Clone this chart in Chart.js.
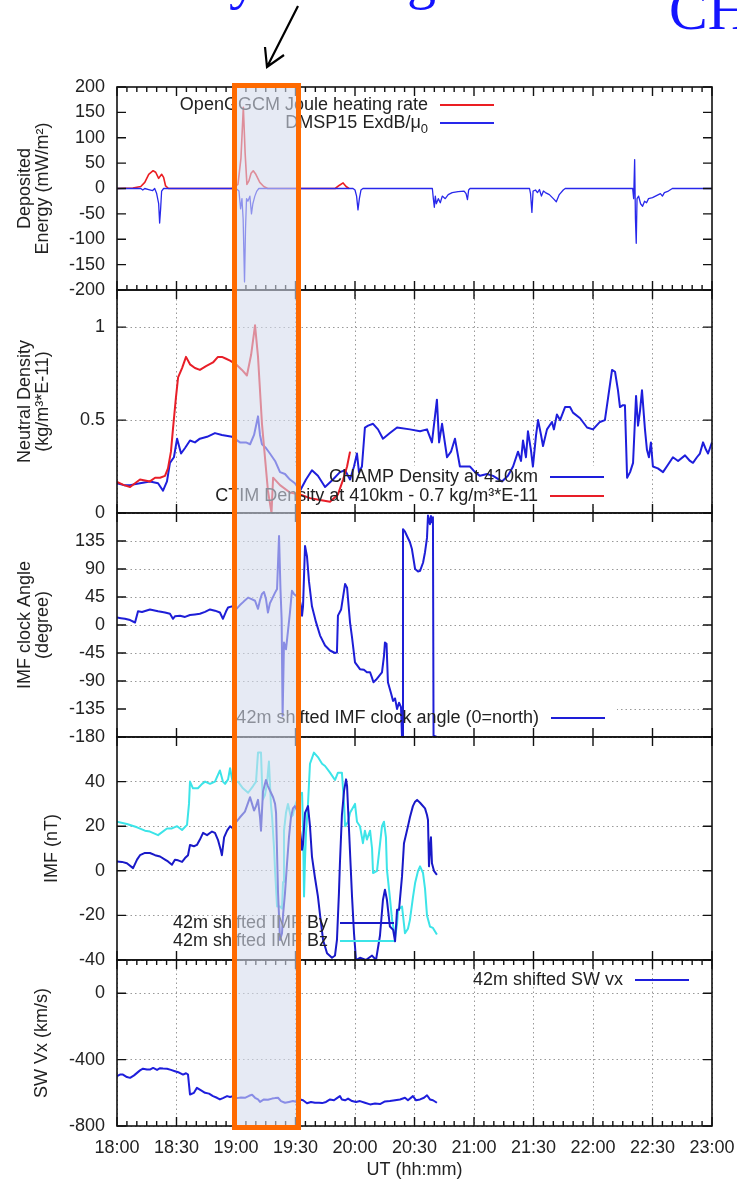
<!DOCTYPE html>
<html>
<head>
<meta charset="utf-8">
<script src="https://cdn.jsdelivr.net/npm/chart.js@4.4.1/dist/chart.umd.min.js"></script>
<style>
html, body { margin: 0; padding: 0; background: #fff; }
#wrap { position: relative; width: 737px; height: 1183px; overflow: hidden; background: #fff; }
#wrap canvas { position: absolute; left: 0; }
#focus { position: absolute; left: 232px; top: 83px; width: 69px; height: 1047px; box-sizing: border-box;
  border: 5px solid #ff6a00; background: rgba(212, 220, 236, 0.59); }
#note { position: absolute; left: 0; top: 0; }
</style>
</head>
<body>
<div id="wrap">
  <canvas id="p1" width="737" height="231" style="top:73px"></canvas>
  <canvas id="p2" width="737" height="251" style="top:276px"></canvas>
  <canvas id="p3" width="737" height="252" style="top:499px"></canvas>
  <canvas id="p4" width="737" height="251" style="top:723px"></canvas>
  <canvas id="p5" width="737" height="237" style="top:946px"></canvas>
  <div id="focus"></div>
  <svg id="note" width="737" height="80">
    <g font-family="'Liberation Serif', 'Times New Roman', serif" font-size="58" fill="#1414ff">
      <text x="229" y="-2">y</text>
      <text x="407" y="-2">g</text>
      <text x="669" y="29">CH</text>
    </g>
    <path d="M298 6 L267 67 M265 47 L267 67 L284 55" stroke="#000" stroke-width="2.2" fill="none"/>
  </svg>
</div>
<script>
// time axis: minutes after 18:00
const xTicks = [0, 30, 60, 90, 120, 150, 180, 210, 240, 270, 300];
const xLabels = ['18:00', '18:30', '19:00', '19:30', '20:00', '20:30', '21:00', '21:30', '22:00', '22:30', '23:00'];

// panel 1: deposited energy
const jouleT = [0, 8, 12, 14, 16, 18.2, 19.5, 21, 22.5, 23.5, 24.5, 26, 58, 61, 62.5, 63.7, 64.6, 65.5, 66.5, 67.6, 68.7, 70, 72, 74, 76, 110, 112, 114, 115.5, 117];
const jouleV = [0, 1, 4, 12, 28, 35, 32, 20, 28, 22, 5, 0, 0, 8, 60, 160, 70, 8, 15, 30, 35, 28, 12, 4, 0, 0, 6, 11, 4, 0];
const dmspT = [0, 12, 13, 14, 16, 18, 19, 20, 21, 21.5, 22, 22.5, 23.5,
  60, 61.5, 62.3, 63, 63.6, 64.3, 64.8, 65.3, 66, 67, 67.8, 68.5, 69.5, 70.5, 71.5,
  119, 120, 120.8, 121.5, 122.2, 123, 124,
  159, 159.5, 160, 160.5, 161, 162, 163, 164, 165.5, 167, 169, 172, 175, 176, 176.7, 177.3, 178,
  208, 208.5, 209.2, 209.8, 211, 212, 213, 214, 215, 216, 218, 220, 221.5, 223, 225, 226,
  260, 260.5, 261, 261.4, 261.8, 262.2, 263, 264, 265, 266, 267, 268, 270, 272, 274, 275, 276, 278, 280, 300];
const dmspV = [0, 0, -3, 0, -2, -4, 0, -10, -30, -68, -40, -5, 0,
  0, -5, -40, -20, -60, -184, -80, -20, -25, -15, -50, -30, -15, -5, 0,
  0, -3, -15, -42, -20, -3, 0,
  0, -20, -37, -15, -30, -20, -28, -15, -20, -12, -8, -6, -5, -10, -22, -3, 0,
  0, -10, -47, -5, -3, -8, -2, -15, -5, -8, -12, -20, -26, -12, -3, 0,
  0, -20, 57, -60, -108, -20, -15, -30, -35, -25, -28, -20, -18, -14, -10, -15, -8, -5, 0, 0];
const p1Ticks = [-200, -150, -100, -50, 0, 50, 100, 150, 200];
const p1Labels = ['-200', '-150', '-100', '-50', '0', '50', '100', '150', '200'];

// panel 2: neutral density
const ctimT = [0, 3.5, 6.6, 11.6, 16.6, 19.2, 21.7, 24.2, 25.7, 27.2, 28.2, 29.7, 30.8, 32.8, 34.8,
  36.8, 39.3, 41.8, 44.9, 48.4, 50.9, 52.9, 55, 57, 60, 63, 65.5, 67.6, 69.6, 71.1,
  73.1, 76.1, 77.9, 78.7, 82.2, 87.2, 92.3, 97.3, 102.4, 107.4, 111.4, 114, 116, 117.5];
const ctimV = [0.168, 0.15, 0.14, 0.18, 0.17, 0.19, 0.19, 0.2, 0.24, 0.33, 0.45, 0.62, 0.73, 0.78, 0.84,
  0.8, 0.78, 0.77, 0.79, 0.81, 0.84, 0.84, 0.83, 0.82, 0.8, 0.77, 0.74, 0.85, 1.01, 0.84,
  0.48, 0.12, 0.0, 0.19, 0.15, 0.11, 0.1, 0.08, 0.07, 0.06, 0.1, 0.18, 0.25, 0.33];
const champT = [0, 3.5, 6.6, 11.6, 16.6, 20.7, 23.2, 25.2, 26.7, 28.7, 30.3, 32.3, 34.3, 36.8, 39.3,
  41.8, 45.4, 49.4, 52.9, 58, 62, 65, 67.1, 69.1, 71.1, 72.1, 73.1, 75.1, 77.1, 79.7,
  82.2, 84.7, 87.2, 89.7, 92.3, 95.3, 98.3, 101.3, 104.9, 108.9, 112.4, 115, 117.5, 119.5, 121,
  122, 123.5, 125, 126.6, 129.1, 131.6, 134.1, 137.6, 141.2, 147.7, 152.8, 156.3, 158.8, 161.3, 162.4,
  163.9, 166.4, 168.4, 170.4, 172.9, 178, 180.5, 183, 186.6, 189.6, 194.1, 197.1, 199.7, 202.2, 203.7,
  204.7, 206.2, 207.2, 208.7, 209.7, 211.3, 212.3, 213.8, 214.8, 216.8, 219.3, 220.3, 221.8, 223.4, 225.9,
  228.4, 229.9, 233.5, 237, 240, 243.5, 246, 247.6, 249.6, 251.1, 252.6, 253.6, 255.1, 256.1, 257.2,
  258.7, 260.2, 261.7, 262.7, 263.7, 264.7, 266.2, 267.2, 268.2, 269.2, 270.2, 272.7, 275.3, 277.8, 280.3,
  282.9, 286.4, 288.9, 290.4, 292.4, 293.9, 295.5, 297, 298, 300];
const champV = [0.16, 0.15, 0.15, 0.16, 0.17, 0.16, 0.12, 0.17, 0.27, 0.3, 0.40, 0.32, 0.35, 0.39, 0.38,
  0.40, 0.41, 0.43, 0.42, 0.41, 0.38, 0.38, 0.37, 0.42, 0.52, 0.42, 0.37, 0.35, 0.32, 0.28,
  0.22, 0.21, 0.18, 0.16, 0.12, 0.18, 0.23, 0.2, 0.14, 0.18, 0.22, 0.23, 0.18, 0.25, 0.32,
  0.22, 0.25, 0.46, 0.47, 0.48, 0.45, 0.40, 0.43, 0.46, 0.45, 0.44, 0.45, 0.38, 0.61, 0.38,
  0.48, 0.30, 0.33, 0.40, 0.25, 0.25, 0.22, 0.20, 0.21, 0.20, 0.17, 0.2, 0.25, 0.33, 0.28,
  0.39, 0.3, 0.44, 0.34, 0.25, 0.42, 0.50, 0.42, 0.36, 0.45, 0.49, 0.45, 0.53, 0.5, 0.57,
  0.57, 0.54, 0.51, 0.46, 0.45, 0.49, 0.5, 0.62, 0.77, 0.76, 0.66, 0.57, 0.58, 0.58, 0.19,
  0.22, 0.27, 0.63, 0.47, 0.55, 0.66, 0.45, 0.34, 0.30, 0.38, 0.25, 0.24, 0.22, 0.26, 0.30,
  0.28, 0.31, 0.28, 0.27, 0.3, 0.32, 0.38, 0.34, 0.32, 0.38];
const p2Ticks = [0, 0.5, 1];
const p2Labels = ['0', '0.5', '1'];

// panel 3: IMF clock angle
const clockT = [0, 2, 4, 6.6, 9.1, 10.6, 12.6, 16.6, 20.7, 24.2, 26.7, 28.2, 29.2, 31.8, 34.3,
  36.8, 39.3, 41.8, 44.4, 46.9, 49.4, 51.9, 53.4, 55, 56, 58, 60, 62, 64, 66.1,
  67.6, 69.6, 71.1, 72.1, 73.1, 74.1, 75.1, 76.1, 77.1, 78.2, 79.7, 80.7, 81.7, 82.4, 83,
  83.5, 84.2, 85.2, 86.2, 87.2, 88.2, 89.2, 90.3, 91.8, 92.8, 93.3, 93.8, 94.8, 95.8, 96.8,
  98.3, 100.3, 102.4, 104.9, 107.4, 109.9, 110.9, 111.4, 113, 115, 116, 117.5, 118.5, 120, 122.5,
  124.5, 126, 127.6, 128.6, 129.3, 130.6, 132.6, 133.6, 134.6, 135.1, 135.9, 136.6, 138.2, 139.2, 140.2,
  141.2, 142.2, 143.2, 143.7, 144.2, 145.2, 146.2, 147.7, 148.7, 150.3, 151.8, 152.8, 154.3, 155.3, 156.3,
  156.8, 157.8, 158.3, 158.8, 159.3, 159.6, 161.3];
const clockV = [12, 11, 10, 8, 4, 22, 21, 25, 22, 20, 18, 10, 14, 15, 13,
  16, 17, 18, 21, 25, 23, 20, 10, 22, 28, 30, 25, 32, 38, 44,
  42, 39, 26, 40, 50, 53, 42, 20, 35, 42, 52, 58, 143, 60, 10,
  -146, -28, -39, -10, 20, 55, 50, 47, 45, 30, 15, 30, 127, 110, 70,
  30, 5, -17, -33, -41, -45, -44, 15, 25, 66, 60, 4, -20, -60, -71,
  -72, -76, -76, -85, -92, -88, -80, -76, -50, -28, -30, -92, -110, -122, -118,
  -135, -125, -132, -180, 154, 150, 143, 133, 122, 90, 86, 87, 100, 117, 140,
  176, 162, 175, 165, 173, -178, -180];
const p3Ticks = [-180, -135, -90, -45, 0, 45, 90, 135, 180];
const p3Labels = ['-180', '-135', '-90', '-45', '0', '45', '90', '135', ''];

// panel 4: IMF By, Bz
const byT = [0, 2.5, 5, 8.1, 10.1, 11.6, 14.1, 16.6, 19.2, 21.7, 24.2, 25.7, 27.7, 29.2, 30.8,
  32.8, 34.3, 35.8, 36.8, 38.8, 40.3, 41.8, 43.4, 45.4, 47.9, 49.4, 50.9, 52.4, 52.9, 54,
  55.5, 57, 58.5, 59.5, 62, 64.5, 67.1, 68.1, 69.1, 70.1, 71.1, 72.1, 72.6, 73.6, 75.1,
  76.1, 77.1, 78.7, 79.7, 80.2, 81.2, 82.2, 83.2, 83.7, 84.7, 85.7, 86.7, 87.7, 88.7, 89.7,
  91.3, 92.3, 93.3, 93.8, 94.8, 96.3, 97.3, 98.3, 99.8, 101.3, 102.4, 103.9, 105.9, 108.4, 109.9,
  110.9, 111.9, 112.4, 113.4, 114.5, 115.5, 116, 116.5, 117, 118.5, 119.5, 120.5, 122.5, 125.5, 128.6,
  130.6, 132.6, 134.1, 135.1, 136.1, 137.6, 139.2, 140.2, 141.2, 142.2, 143.7, 144.7, 146.7, 147.7, 149.2,
  150.3, 151.3, 152.8, 153.8, 155.3, 156.3, 156.8, 157.3, 157.8, 158.3, 158.8, 159.8, 161.3];
const byV = [4.2, 4, 3.4, 1.2, 5, 7, 8, 8, 7, 6.4, 5, 4.2, 2.7, 5, 4.7,
  4, 5.7, 7, 11.6, 11, 11.6, 14, 17, 16, 17.6, 17, 13.9, 9, 7, 15,
  18, 20, 19, 21.3, 24, 26.5, 33, 30, 27, 29, 31.8, 24, 18, 35.5, 40.7,
  38, 36, 33, 30, 26, -10, -31, -28, -20, -10, 3, 15, 24, 28, 29,
  26, 18, 9.4, 12, 26, 29, 20, 6.4, -3, -11.5, -20, -31, -37, -39, -38,
  -31, -10, 3.4, 25, 36, 41, 38, 28, 18, -11.5, -28, -40, -39, -40, -38,
  -40, -29, -13, -8.5, -13, -25, -26.4, -31.6, -17.5, -17.5, -2.5, 12.4, 20, 24, 29,
  31, 31.8, 30.5, 29.5, 28, 25, 22.8, 2, 10, 15, 3.4, 0, -1.8];
const bzT = [0, 5, 10.1, 14.1, 16.6, 20.7, 25.2, 27.7, 30.3, 32.8, 35.3, 36.3, 36.8, 38.3, 40.8,
  42.9, 44.4, 46.9, 49.4, 50.9, 51.9, 53.4, 54.5, 56, 57, 58.5, 61, 63.5, 66.1, 68.6,
  70.1, 71.1, 72.6, 73.1, 73.6, 74.6, 75.6, 76.6, 77.6, 78.2, 79.2, 79.7, 80.7, 82.2, 83.2,
  83.7, 84.2, 85.2, 86.2, 87.7, 88.7, 89.7, 91.3, 93.3, 93.8, 94.3, 94.8, 95.3, 96.3, 97.3,
  99.3, 101.3, 103.4, 104.9, 107.4, 109.9, 111.4, 113.4, 114.5, 115, 116.5, 117.5, 120, 121, 122.5,
  124, 125, 126, 127.6, 128.6, 129.1, 131.1, 132.6, 133.6, 134.6, 135.6, 136.1, 137.6, 138.7, 140.2,
  141.2, 141.7, 143.7, 145.2, 146.7, 147.7, 149.2, 150.3, 151.8, 152.8, 154.3, 155.3, 156.3, 157.8, 159.3,
  161.3];
const bzV = [22, 21, 19.5, 18, 17.6, 16, 19, 19, 20, 18.3, 20.6, 30, 40, 37, 37,
  39, 40, 39, 40, 43, 45, 40, 39, 41, 46, 39, 40, 37, 35, 38,
  40, 53, 53, 40, 32, 34, 39, 49, 30, 24, 10, 0, -16, -16, -17,
  -5, 18, 26, 30, 24, 25, 29, 33, 35, 20, -11.5, 5, 17, 30, 48,
  53, 51, 48, 47, 44, 40.7, 44, 44, 30, 20, 22, 26, 30, 22, 20,
  12.4, 18, 14, 18, 10, -1, 0, 12, 20, 22, 15, 0.5, -12, -22, -30,
  -24, -17.5, -16, -28, -26, -22, -12, -5.5, 0, 2, -1, -8, -20, -25, -25.6,
  -28.6];
const p4Ticks = [-40, -20, 0, 20, 40, 60];
const p4Labels = ['-40', '-20', '0', '20', '40', ''];

// panel 5: solar wind vx
const swT = [0, 1.5, 3, 5, 6.6, 8.6, 10.1, 11.6, 13.1, 15.1, 16.6, 18.2, 20.2, 21.7, 23.2,
  25.2, 27.2, 29.2, 31.3, 33.3, 34.8, 35.8, 36.8, 38.8, 40.3, 42.4, 44.4, 46.4, 48.4, 50.4,
  51.9, 53.4, 55.5, 57, 58.5, 60.5, 62.5, 64.5, 66.6, 68.1, 69.6, 71.1, 72.1, 74.1, 76.1,
  78.2, 79.7, 81.2, 82.7, 84.7, 86.7, 88.7, 90.8, 92.3, 93.8, 95.8, 97.8, 99.8, 101.9, 103.4,
  105.4, 107.4, 109.4, 110.9, 112.4, 113.4, 115, 116.5, 118.5, 120.5, 122.5, 125, 127.6, 130.1, 132.6,
  135.1, 137.6, 140.2, 142.7, 145.2, 146.7, 149.2, 150.8, 152.8, 154.8, 156.3, 157.8, 159.3, 161.3];
const swV = [-500, -490, -490, -505, -510, -495, -480, -465, -455, -460, -460, -450, -462, -452, -454,
  -455, -462, -470, -478, -490, -482, -490, -610, -600, -570, -585, -600, -605, -620, -630,
  -640, -632, -620, -625, -620, -632, -628, -630, -618, -612, -630, -640, -655, -640, -642,
  -635, -632, -630, -650, -660, -655, -650, -655, -640, -645, -663, -655, -660, -660, -662,
  -655, -640, -645, -632, -620, -640, -645, -635, -650, -655, -650, -660, -670, -665, -668,
  -652, -650, -645, -640, -630, -645, -620, -645, -640, -630, -615, -640, -645, -660];
const p5Ticks = [-800, -400, 0, 200];
const p5Labels = ['-800', '-400', '0', ''];

Chart.defaults.font.family = '"Liberation Sans", Arial, Helvetica, sans-serif';
Chart.defaults.font.size = 18;
Chart.defaults.color = '#222';

const pts = (ts, vs) => ts.map((t, i) => ({ x: t, y: vs[i] }));
const series = (label, color, ts, vs, w) => ({
  label, data: pts(ts, vs), borderColor: color, borderWidth: w || 2,
  pointRadius: 0, tension: 0, fill: false, borderJoinStyle: 'round'
});

// gnuplot-like frame with inward tick marks
const gnuFrame = {
  id: 'gnuFrame',
  afterDraw(chart, args, opts) {
    const { ctx, chartArea: a, scales: { x, y } } = chart;
    ctx.save();
    ctx.strokeStyle = '#111';
    ctx.lineWidth = 1.4;
    ctx.beginPath();
    y.ticks.forEach(t => {
      const py = y.getPixelForValue(t.value);
      ctx.moveTo(a.left, py); ctx.lineTo(a.left + 9, py);
      ctx.moveTo(a.right, py); ctx.lineTo(a.right - 9, py);
    });
    x.ticks.forEach(t => {
      const px = x.getPixelForValue(t.value);
      ctx.moveTo(px, a.top); ctx.lineTo(px, a.top + 9);
      ctx.moveTo(px, a.bottom); ctx.lineTo(px, a.bottom - 9);
    });
    if (opts.minor) {
      for (let m = x.min; m <= x.max; m += 5) {
        if (m % 30 === 0) continue;
        const px = x.getPixelForValue(m);
        ctx.moveTo(px, a.top); ctx.lineTo(px, a.top + 5);
        ctx.moveTo(px, a.bottom); ctx.lineTo(px, a.bottom - 5);
      }
    }
    ctx.stroke();
    ctx.lineWidth = 1.6;
    ctx.strokeRect(a.left, a.top, a.right - a.left, a.bottom - a.top);
    ctx.restore();
  }
};

// key: right aligned text followed by a line sample
const gnuKey = {
  id: 'gnuKey',
  beforeDatasetsDraw(chart, args, opts) {
    if (!opts.box) return;
    const off = chart.canvas.offsetTop;
    const [x0, y0, x1, y1] = opts.box;
    chart.ctx.save();
    chart.ctx.fillStyle = '#fff';
    chart.ctx.fillRect(x0, y0 - off, x1 - x0, y1 - y0);
    chart.ctx.restore();
  },
  afterDatasetsDraw(chart, args, opts) {
    const { ctx } = chart;
    const off = chart.canvas.offsetTop;
    const fam = Chart.defaults.font.family;
    ctx.save();
    ctx.textBaseline = 'middle';
    ctx.textAlign = 'right';
    ctx.fillStyle = '#222';
    (opts.entries || []).forEach(e => {
      const ds = chart.data.datasets[e.ds];
      const y = e.y - off;
      let text = ds.label;
      let xe = e.xEnd;
      if (e.sub) {
        const s = text.slice(-1);
        text = text.slice(0, -1);
        ctx.font = '13px ' + fam;
        ctx.fillText(s, xe, y + 6);
        xe -= ctx.measureText(s).width;
      }
      ctx.font = '18px ' + fam;
      ctx.fillText(text, xe, y);
      ctx.strokeStyle = ds.borderColor;
      ctx.lineWidth = 2;
      ctx.beginPath();
      ctx.moveTo(e.xEnd + 12, y);
      ctx.lineTo(e.xEnd + 66, y);
      ctx.stroke();
    });
    ctx.restore();
  }
};

function makePanel(id, cfg) {
  const gridCol = '#999';
  return new Chart(document.getElementById(id), {
    type: 'line',
    data: { datasets: cfg.datasets },
    plugins: [gnuFrame, gnuKey],
    options: {
      responsive: false,
      animation: false,
      events: [],
      layout: { padding: { left: 0, right: 25, top: 14, bottom: cfg.last ? 0 : 14 } },
      plugins: {
        legend: { display: false },
        tooltip: { enabled: false },
        gnuFrame: { minor: !!cfg.minor },
        gnuKey: { entries: cfg.key, box: cfg.box }
      },
      scales: {
        x: {
          type: 'linear', min: 0, max: 300,
          afterBuildTicks: s => { s.ticks = xTicks.map(v => ({ value: v })); },
          afterFit: s => { s.height = cfg.last ? 57 : 0; s.paddingLeft = 0; s.paddingRight = 0; },
          grid: { display: !!cfg.xGrid, drawTicks: false, color: gridCol, lineWidth: 1 },
          border: { display: false, dash: [1.5, 3] },
          ticks: { display: !!cfg.last, padding: 11, maxRotation: 0, autoSkip: false,
            callback: (v, i) => xLabels[i] },
          title: { display: !!cfg.last, text: 'UT (hh:mm)', padding: { top: 0, bottom: 2 } }
        },
        y: {
          type: 'linear', min: cfg.min, max: cfg.max,
          afterBuildTicks: s => { s.ticks = cfg.ticks.map(v => ({ value: v })); },
          afterFit: s => { s.width = 117; s.paddingTop = 0; s.paddingBottom = 0; },
          grid: { display: !!cfg.yGrid, drawTicks: false, color: gridCol, lineWidth: 1 },
          border: { display: false, dash: [1.5, 3] },
          ticks: { padding: 12, autoSkip: false, callback: (v, i) => cfg.labels[i] },
          title: { display: true, text: cfg.title, font: { size: 18, lineHeight: 1 },
            padding: { top: cfg.titlePad, bottom: 0 } }
        }
      }
    }
  });
}

makePanel('p1', {
  datasets: [
    series('DMSP15 ExdB/μ0', 'rgb(40,40,235)', dmspT, dmspV, 1.3),
    series('OpenGGCM Joule heating rate', 'rgb(235,30,35)', jouleT, jouleV, 1.6)
  ],
  min: -200, max: 200, ticks: p1Ticks, labels: p1Labels,
  title: ['Deposited', 'Energy (mW/m²)'], titlePad: 16, minor: true,
  key: [{ ds: 1, xEnd: 428, y: 105 }, { ds: 0, xEnd: 428, y: 123, sub: true }]
});

makePanel('p2', {
  datasets: [
    series('CTIM Density at 410km - 0.7 kg/m³*E-11', 'rgb(232,30,40)', ctimT, ctimV),
    series('CHAMP Density at 410km', 'rgb(30,30,220)', champT, champV)
  ],
  min: 0, max: 1.2, ticks: p2Ticks, labels: p2Labels,
  title: ['Neutral Density', '(kg/m³*E-11)'], titlePad: 16, xGrid: true, yGrid: true,
  key: [{ ds: 1, xEnd: 538, y: 477 }, { ds: 0, xEnd: 538, y: 496 }],
  box: [200, 466, 617, 507]
});

makePanel('p3', {
  datasets: [series('42m shifted IMF clock angle (0=north)', 'rgb(30,30,215)', clockT, clockV)],
  min: -180, max: 180, ticks: p3Ticks, labels: p3Labels,
  title: ['IMF clock Angle', '(degree)'], titlePad: 16, yGrid: true,
  key: [{ ds: 0, xEnd: 539, y: 718 }],
  box: [118, 700, 617, 736]
});

makePanel('p4', {
  datasets: [
    series('42m shifted IMF By', 'rgb(25,25,200)', byT, byV),
    series('42m shifted IMF Bz', 'rgb(60,228,232)', bzT, bzV)
  ],
  min: -40, max: 60, ticks: p4Ticks, labels: p4Labels,
  title: 'IMF (nT)', titlePad: 43, yGrid: true,
  key: [{ ds: 0, xEnd: 328, y: 923 }, { ds: 1, xEnd: 328, y: 941 }]
});

makePanel('p5', {
  datasets: [series('42m shifted SW vx', 'rgb(30,30,220)', swT, swV)],
  min: -800, max: 200, ticks: p5Ticks, labels: p5Labels,
  title: 'SW Vx (km/s)', titlePad: 33, xGrid: true, yGrid: true, minor: true, last: true,
  key: [{ ds: 0, xEnd: 623, y: 980 }]
});
</script>
</body>
</html>
